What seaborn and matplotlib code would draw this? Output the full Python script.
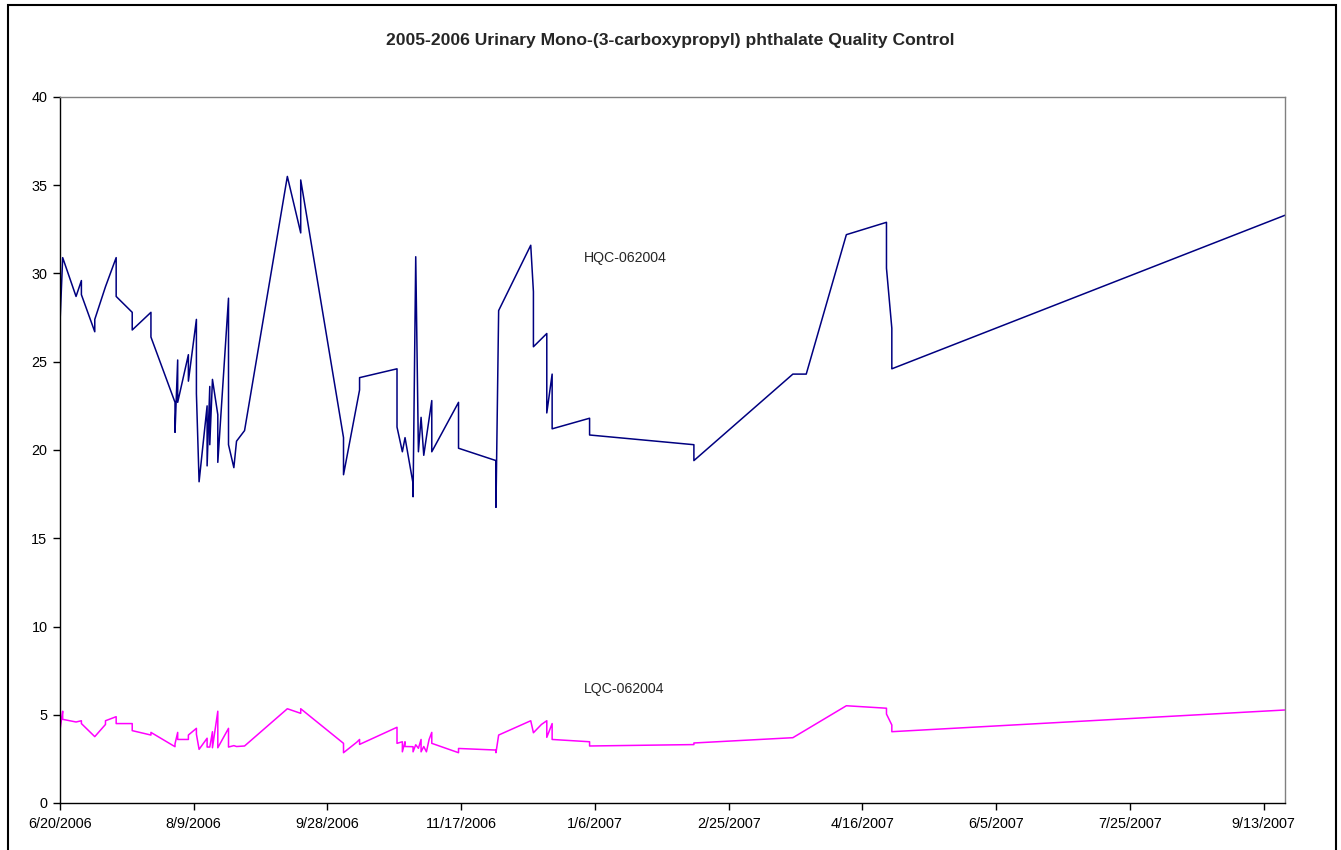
import numpy as np
import pandas as pd
import matplotlib
matplotlib.use("Agg")
import matplotlib.pyplot as plt
import matplotlib.dates as mdates
from matplotlib.patches import Rectangle
import seaborn as sns

# ---------------- data ----------------
hqc_dates = ["2006-06-20","2006-06-21","2006-06-26","2006-06-28","2006-06-28","2006-07-03","2006-07-03",
             "2006-07-07","2006-07-11","2006-07-11","2006-07-17","2006-07-17","2006-07-24","2006-07-24",
             "2006-08-02","2006-08-02","2006-08-03","2006-08-03","2006-08-07","2006-08-07","2006-08-10",
             "2006-08-10","2006-08-11","2006-08-14","2006-08-14","2006-08-15","2006-08-15","2006-08-16",
             "2006-08-18","2006-08-18","2006-08-22","2006-08-22","2006-08-24","2006-08-25","2006-08-28",
             "2006-09-13","2006-09-18","2006-09-18","2006-10-04","2006-10-04","2006-10-10","2006-10-10",
             "2006-10-24","2006-10-24","2006-10-26","2006-10-27","2006-10-30","2006-10-30","2006-10-31",
             "2006-11-01","2006-11-02","2006-11-03","2006-11-06","2006-11-06","2006-11-16","2006-11-16",
             "2006-11-30","2006-11-30","2006-12-01","2006-12-13","2006-12-14","2006-12-14","2006-12-19",
             "2006-12-19","2006-12-21","2006-12-21","2007-01-04","2007-01-04","2007-02-12","2007-02-12",
             "2007-03-21","2007-03-26","2007-04-10","2007-04-25","2007-04-25","2007-04-27","2007-04-27",
             "2007-09-21"]
hqc_values = [27.2,30.9,28.7,29.6,28.8,26.7,27.4,29.25,30.9,28.7,27.8,26.8,27.8,26.4,22.7,21.0,25.1,22.7,
              25.4,23.9,27.4,23.2,18.2,22.5,19.1,23.6,20.3,24.0,22.0,19.3,28.6,20.3,19.0,20.5,21.1,35.5,
              32.3,35.3,20.7,18.6,23.4,24.1,24.6,21.3,19.9,20.7,18.1,17.35,30.95,19.9,21.85,19.7,22.8,
              19.9,22.7,20.1,19.4,16.75,27.9,31.6,28.97,25.85,26.6,22.1,24.3,21.2,21.8,20.85,20.3,19.4,
              24.3,24.3,32.2,32.9,30.3,26.9,24.6,33.3]

lqc_dates = ["2006-06-20","2006-06-21","2006-06-21","2006-06-26","2006-06-28","2006-06-28","2006-07-03",
             "2006-07-07","2006-07-07","2006-07-11","2006-07-11","2006-07-17","2006-07-17","2006-07-24",
             "2006-07-24","2006-08-02","2006-08-02","2006-08-03","2006-08-03","2006-08-07","2006-08-07",
             "2006-08-10","2006-08-10","2006-08-11","2006-08-14","2006-08-14","2006-08-15","2006-08-16",
             "2006-08-16","2006-08-18","2006-08-18","2006-08-22","2006-08-22","2006-08-24","2006-08-25",
             "2006-08-28","2006-09-13","2006-09-18","2006-09-18","2006-10-04","2006-10-04","2006-10-09",
             "2006-10-10","2006-10-10","2006-10-24","2006-10-24","2006-10-26","2006-10-26","2006-10-27",
             "2006-10-27","2006-10-30","2006-10-30","2006-10-31","2006-11-01","2006-11-02","2006-11-02",
             "2006-11-03","2006-11-04","2006-11-05","2006-11-06","2006-11-06","2006-11-16","2006-11-16",
             "2006-11-30","2006-11-30","2006-12-01","2006-12-13","2006-12-14","2006-12-17","2006-12-19",
             "2006-12-19","2006-12-21","2006-12-21","2007-01-04","2007-01-04","2007-02-12","2007-02-12",
             "2007-03-21","2007-04-10","2007-04-25","2007-04-25","2007-04-27","2007-04-27","2007-09-21"]
lqc_values = [4.14,5.2,4.74,4.59,4.66,4.5,3.76,4.45,4.66,4.89,4.5,4.5,4.1,3.85,4.0,3.19,3.35,4.0,3.6,
              3.6,3.85,4.23,3.9,3.04,3.67,3.17,3.17,4.04,3.13,5.2,3.13,4.23,3.17,3.25,3.2,3.23,5.34,
              5.08,5.34,3.38,2.85,3.45,3.6,3.32,4.29,3.38,3.47,2.9,3.47,3.2,3.19,2.9,3.3,3.1,3.6,2.9,
              3.2,2.9,3.6,4.0,3.38,2.85,3.09,3.0,2.85,3.85,4.66,3.98,4.45,4.66,3.72,4.5,3.6,3.47,3.23,
              3.31,3.4,3.7,5.51,5.37,5.04,4.42,4.04,5.27]

series_labels = ["HQC-062004", "LQC-062004"]
title = "2005-2006 Urinary Mono-(3-carboxypropyl) phthalate Quality Control"
x_start, x_end = "2006-06-20", "2007-09-21"
tick_step_days = 50
y_ticks = [0, 5, 10, 15, 20, 25, 30, 35, 40]

# ---------------- plotting ----------------
sns.set_theme(style="white")
plt.rcParams['font.family'] = ['Liberation Sans', 'DejaVu Sans']

W, H = 1341, 850
fig = plt.figure(figsize=(W / 100, H / 100), dpi=100)
ax = fig.add_axes([60 / W, 1 - 803 / H, (1285 - 60) / W, (803 - 97) / H])

hqc = pd.DataFrame({"date": pd.to_datetime(hqc_dates), "value": hqc_values})
lqc = pd.DataFrame({"date": pd.to_datetime(lqc_dates), "value": lqc_values})

sns.lineplot(data=hqc, x="date", y="value", estimator=None, sort=False,
             color="#000080", linewidth=1.1, ax=ax)
sns.lineplot(data=lqc, x="date", y="value", estimator=None, sort=False,
             color="#FF00FF", linewidth=1.1, ax=ax)

x0, x1 = pd.Timestamp(x_start), pd.Timestamp(x_end)
ax.set_xlim(x0, x1)
ax.set_ylim(0, 40)
ticks = pd.date_range(x0, x1, freq=f"{tick_step_days}D")
ax.set_xticks(ticks)
ax.set_xticklabels([f"{t.month}/{t.day}/{t.year}" for t in ticks], fontsize=10.4, color="black")
ax.set_yticks(y_ticks)
ax.set_yticklabels([str(v) for v in y_ticks], fontsize=10.4, color="black")
ax.tick_params(axis="both", direction="out", length=5, width=1, color="black",
               bottom=True, left=True)
ax.tick_params(axis="y", pad=4)
ax.tick_params(axis="x", pad=5)
ax.set_xlabel("")
ax.set_ylabel("")

for side in ["left", "bottom"]:
    ax.spines[side].set_color("black")
    ax.spines[side].set_linewidth(1.0)
for side in ["top", "right"]:
    ax.spines[side].set_color("#808080")
    ax.spines[side].set_linewidth(1.0)

ax.text(pd.Timestamp("2007-01-02"), 30.85, series_labels[0], fontsize=10.2, va="center", ha="left")
ax.text(pd.Timestamp("2007-01-02"), 6.45, series_labels[1], fontsize=10.2, va="center", ha="left")

fig.text(0.5, 1 - 40 / H, title, fontsize=12.6, fontweight="bold", ha="center", va="center")

fig.patches.append(Rectangle((8 / W, -0.05), (1336 - 8) / W, 1.05 - 5 / H,
                             transform=fig.transFigure, fill=False,
                             edgecolor="black", linewidth=1.5))

fig.savefig("out.png", dpi=100)
